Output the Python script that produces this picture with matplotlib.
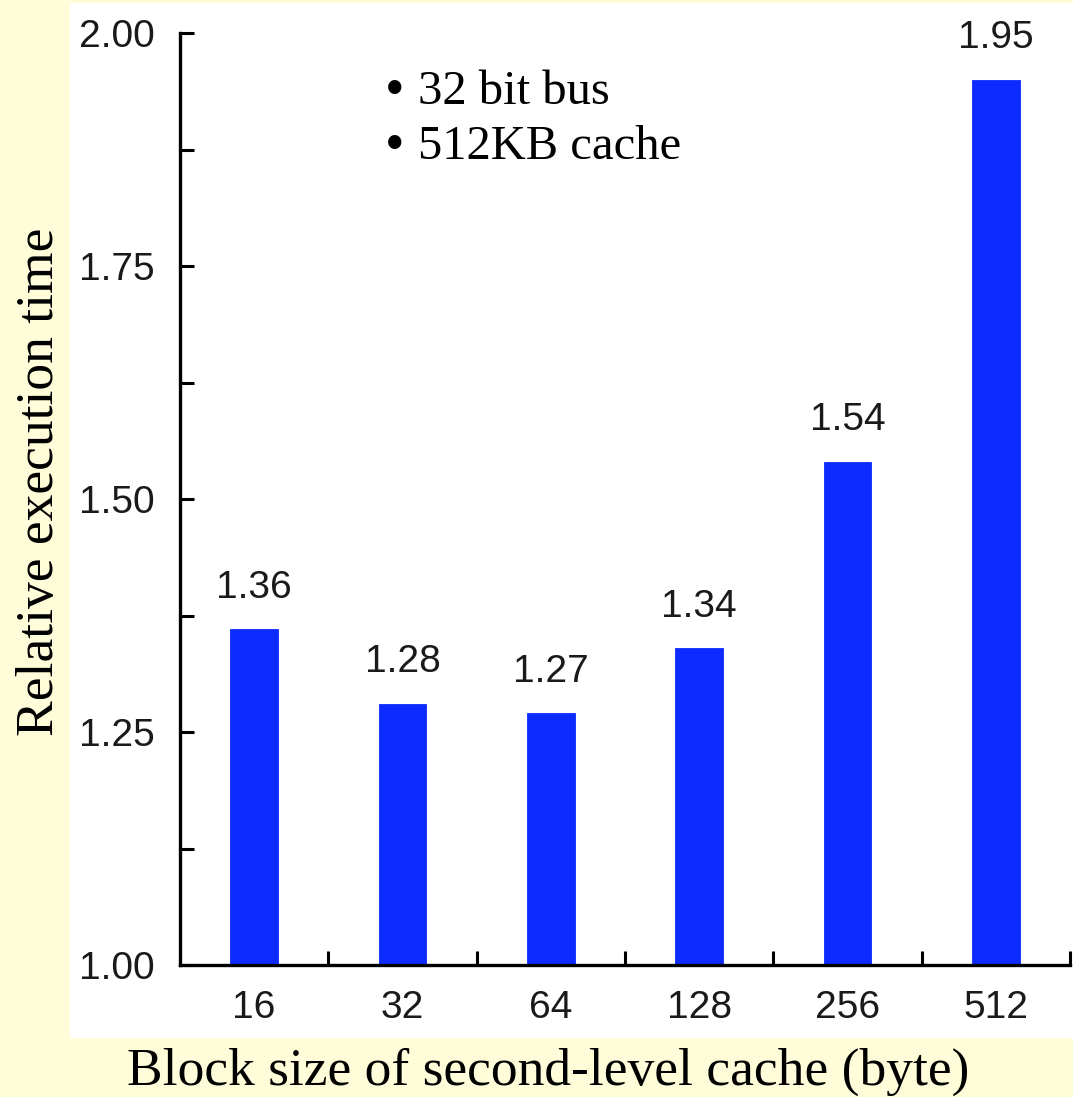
import matplotlib
matplotlib.use("Agg")
import matplotlib.pyplot as plt
from matplotlib.patches import Rectangle
from matplotlib.ticker import MultipleLocator, FixedLocator

# data
block_sizes = ["16", "32", "64", "128", "256", "512"]
rel_time = [1.36, 1.28, 1.27, 1.34, 1.54, 1.95]
notes = ["32 bit bus", "512KB cache"]

W, H = 1073, 1097
fig = plt.figure(figsize=(W / 100, H / 100), dpi=100)
fig.patch.set_facecolor("#FFFDD9")

# white panel behind the chart
fig.patches.append(Rectangle((70 / W, 1 - 1038 / H), (W - 70) / W, (1038 - 3) / H,
                             transform=fig.transFigure, facecolor="white",
                             edgecolor="none", zorder=-10))

ax = fig.add_axes([180 / W, 1 - 965 / H, (1070 - 180) / W, (965 - 33) / H])
ax.set_facecolor("none")

x = list(range(len(block_sizes)))
ax.bar(x, [v - 1.0 for v in rel_time], bottom=1.0, width=0.32,
       color="#0D2BFF", edgecolor="#0D2BFF", linewidth=0.6, zorder=2)

for xi, v in zip(x, rel_time):
    ax.annotate(f"{v:.2f}", (xi, v), xytext=(0, 17), textcoords="offset points",
                ha="center", va="bottom", fontsize=28,
                family="Liberation Sans", color="#1a1a1a")

ax.set_xlim(-0.5, len(block_sizes) - 0.5)
ax.set_ylim(1.0, 2.0)

# spines
for s in ["top", "right"]:
    ax.spines[s].set_visible(False)
for s in ["left", "bottom"]:
    ax.spines[s].set_linewidth(2.4)
    ax.spines[s].set_color("black")

# y ticks
ax.yaxis.set_major_locator(MultipleLocator(0.25))
ax.yaxis.set_minor_locator(MultipleLocator(0.125))
ax.yaxis.set_major_formatter(matplotlib.ticker.FormatStrFormatter("%.2f"))
ax.tick_params(axis="y", which="both", direction="in", length=10, width=2.2,
               pad=18, labelsize=28, labelcolor="#1a1a1a")

# x ticks: labels at centers, tick marks at boundaries
ax.set_xticks(x)
ax.set_xticklabels(block_sizes)
ax.xaxis.set_minor_locator(FixedLocator([i + 0.5 for i in x]))
ax.tick_params(axis="x", which="major", length=0, pad=18, labelsize=28,
               labelcolor="#1a1a1a")
ax.tick_params(axis="x", which="minor", direction="in", length=10, width=2.2)
for lbl in ax.get_xticklabels() + ax.get_yticklabels():
    lbl.set_family("Liberation Sans")

# axis titles
fig.text(548 / W, 1 - 1072 / H, "Block size of second-level cache (byte)",
         ha="center", va="center", fontsize=38.5, family="Liberation Serif")
fig.text(40 / W, 1 - 482 / H, "Relative execution time", rotation=90,
         ha="center", va="center", fontsize=38.5, family="Liberation Serif")

# notes
for i, note in enumerate(notes):
    yy = 1 - (92 + 55 * i) / H
    fig.text(385 / W, yy, "\u2022", ha="left", va="center", fontsize=40,
             family="Liberation Serif")
    fig.text(418 / W, yy, note, ha="left", va="center", fontsize=35,
             family="Liberation Serif")

fig.savefig("out.png", dpi=100, facecolor=fig.get_facecolor())
